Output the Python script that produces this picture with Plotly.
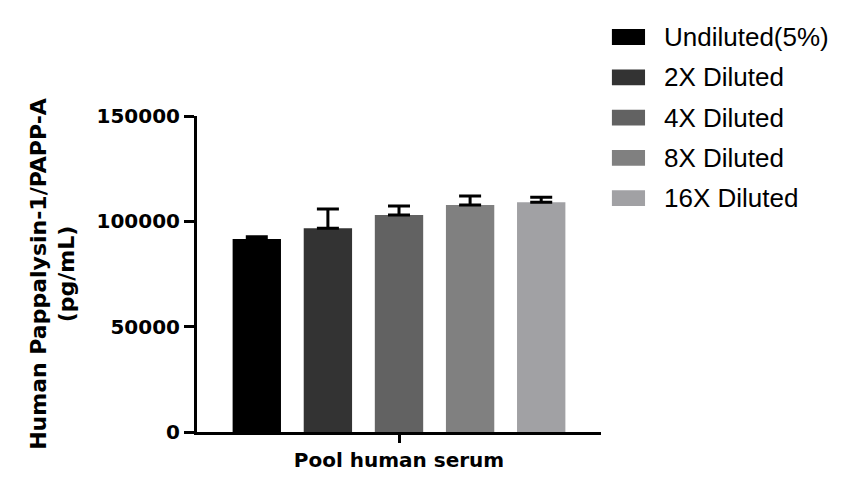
import plotly.graph_objects as go

# --- data ---
category = ["Pool human serum"]
series_names = ["Undiluted(5%)", "2X Diluted", "4X Diluted", "8X Diluted", "16X Diluted"]
means = [91600, 96700, 103000, 107700, 109000]
errors_up = [1100, 9100, 4300, 4300, 2400]
bar_colors = ["#000000", "#333333", "#626262", "#808080", "#a1a1a4"]

y_ticks = [0, 50000, 100000, 150000]

tick_font = dict(family="DejaVu Sans", size=20, color="black", weight="bold")
title_font = dict(family="DejaVu Sans", size=22, color="black", weight="bold")
legend_font = dict(family="Liberation Sans", size=26, color="black")

fig = go.Figure()
for name, m, e, c in zip(series_names, means, errors_up, bar_colors):
    fig.add_trace(go.Bar(
        x=category,
        y=[m],
        name=name,
        marker=dict(color=c, line=dict(width=0)),
        error_y=dict(type="data", symmetric=False, array=[e], arrayminus=[0],
                     color="black", thickness=3, width=11),
        showlegend=False,
    ))

# legend drawn by hand so the swatches can be wide rectangles like the original
for i, (name, c) in enumerate(zip(series_names, bar_colors)):
    yc = 1.25 - i * 0.1275
    fig.add_shape(type="rect", xref="paper", yref="paper",
                  x0=1.027, x1=1.109, y0=yc - 0.025, y1=yc + 0.025,
                  fillcolor=c, line=dict(width=0))
    fig.add_annotation(x=1.152, y=yc, xref="paper", yref="paper",
                       text=name, showarrow=False, xanchor="left", yanchor="middle",
                       font=legend_font)

fig.update_layout(
    width=855, height=495,
    margin=dict(l=189, r=262, t=108, b=71),
    plot_bgcolor="white", paper_bgcolor="white",
    barmode="group",
    bargap=0.12,
    bargroupgap=0.32,
)
fig.update_xaxes(
    showline=True, linecolor="black", linewidth=3,
    ticks="outside", ticklen=8, tickwidth=3, tickcolor="black",
    tickfont=tick_font, showgrid=False, zeroline=False,
)
fig.update_yaxes(
    range=[0, 150000], tickvals=y_ticks, ticktext=[str(v) for v in y_ticks],
    showline=True, linecolor="black", linewidth=3,
    ticks="outside", ticklen=10, tickwidth=3, tickcolor="black",
    tickfont=tick_font, showgrid=False, zeroline=False,
    title=dict(text="Human Pappalysin-1/PAPP-A<br>(pg/mL)", font=title_font, standoff=16),
)

fig.write_html("out.html")
